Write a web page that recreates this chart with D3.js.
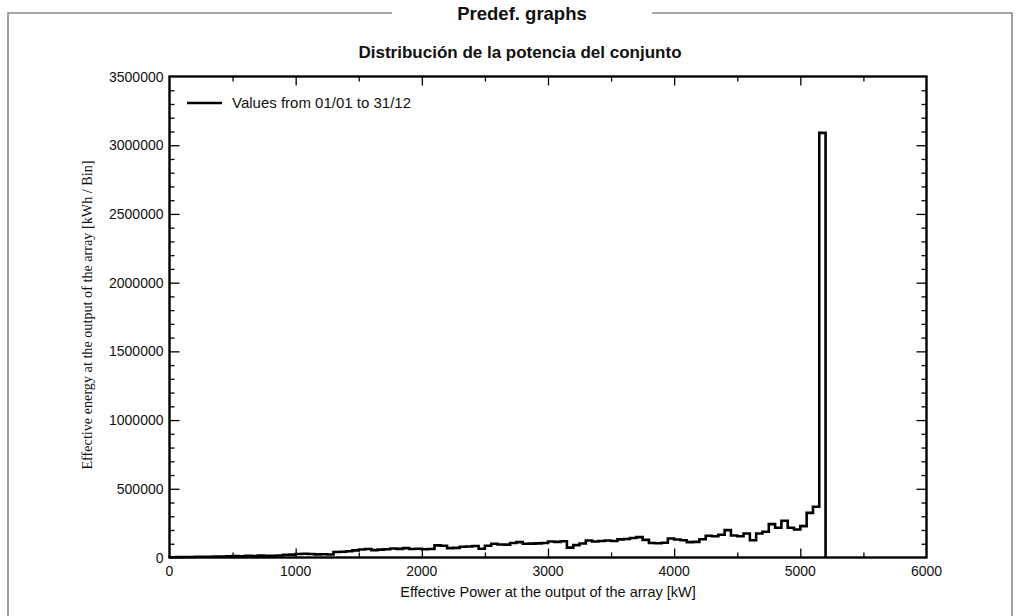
<!DOCTYPE html>
<html>
<head>
<meta charset="utf-8">
<script src="https://cdn.jsdelivr.net/npm/d3@7"></script>
<style>
  html, body { margin: 0; padding: 0; background: #fff; }
  svg { display: block; }
  text { font-family: "Liberation Sans", Arial, sans-serif; fill: #111; }
</style>
</head>
<body>
<svg id="chart" width="1020" height="616"></svg>
<script>
// ---- data ----
const frameTitle = "Predef. graphs";
const chartTitle = "Distribución de la potencia del conjunto";
const xTitle = "Effective Power at the output of the array [kW]";
const yTitle = "Effective energy at the output of the array [kWh / Bin]";
const legendLabel = "Values from 01/01 to 31/12";

const binWidthKW = 50;
// energy per 50 kW bin, starting at 0 kW
const energyPerBin = [
  2000, 3000, 4000, 4000, 5000, 5000, 6000, 7000, 7000, 9000,
  10000, 9000, 12000, 11000, 14000, 13000, 12000, 15000, 20000, 21000,
  26000, 27000, 25000, 23000, 24000, 22000, 40000, 42000, 46000, 52000,
  58000, 62000, 54000, 57000, 60000, 66000, 63000, 68000, 62000, 64000,
  60000, 62000, 88000, 86000, 68000, 70000, 78000, 80000, 84000, 64000,
  86000, 100000, 95000, 94000, 106000, 112000, 100000, 101000, 103000, 106000,
  116000, 114000, 118000, 72000, 90000, 102000, 124000, 116000, 120000, 124000,
  120000, 132000, 135000, 142000, 148000, 128000, 106000, 104000, 107000, 138000,
  131000, 125000, 112000, 114000, 133000, 158000, 155000, 165000, 199000, 160000,
  155000, 175000, 126000, 175000, 187000, 243000, 216000, 267000, 216000, 204000,
  228000, 325000, 369000, 3090000
];
const binStarts = d3.range(energyPerBin.length).map(i => i * binWidthKW);

const xTicks = [0, 1000, 2000, 3000, 4000, 5000, 6000];
const yTicks = [0, 500000, 1000000, 1500000, 2000000, 2500000, 3000000, 3500000];

// ---- layout ----
const svg = d3.select("#chart");
const plot = { left: 169.5, right: 926.5, top: 76.5, bottom: 557.5 };

const x = d3.scaleLinear().domain([0, 6000]).range([plot.left, plot.right]);
const y = d3.scaleLinear().domain([0, 3500000]).range([plot.bottom, plot.top]);

// outer frame
const frameColor = "#8a8a8a";
svg.append("path")
  .attr("d", `M392,13 H8 V616 M1012,616 V13 H652`)
  .attr("fill", "none").attr("stroke", frameColor).attr("stroke-width", 1.6);
svg.append("text")
  .attr("x", 522).attr("y", 19.5)
  .attr("text-anchor", "middle")
  .attr("font-weight", "bold").attr("font-size", 18.5)
  .text(frameTitle);

svg.append("text")
  .attr("x", 520).attr("y", 58)
  .attr("text-anchor", "middle")
  .attr("font-weight", "bold").attr("font-size", 17)
  .text(chartTitle);

// ticks (inward), via axes
function styleAxis(g) {
  g.select(".domain").remove();
  g.selectAll("line").attr("stroke", "#000").attr("stroke-width", 1.3);
  g.selectAll("text").remove();
}
const xMinor = d3.range(0, 6001, 500).filter(v => v % 1000 !== 0);
const yMinor = d3.range(0, 3500001, 100000).filter(v => v % 500000 !== 0);

// bottom
svg.append("g").attr("transform", `translate(0,${plot.bottom})`)
  .call(d3.axisTop(x).tickValues(xTicks.slice(1, -1)).tickSize(9)).call(styleAxis);
svg.append("g").attr("transform", `translate(0,${plot.bottom})`)
  .call(d3.axisTop(x).tickValues(xMinor).tickSize(5)).call(styleAxis);
// top
svg.append("g").attr("transform", `translate(0,${plot.top})`)
  .call(d3.axisBottom(x).tickValues(xTicks.slice(1, -1)).tickSize(9)).call(styleAxis);
svg.append("g").attr("transform", `translate(0,${plot.top})`)
  .call(d3.axisBottom(x).tickValues(xMinor).tickSize(5)).call(styleAxis);
// left
svg.append("g").attr("transform", `translate(${plot.left},0)`)
  .call(d3.axisRight(y).tickValues(yTicks.slice(1, -1)).tickSize(10)).call(styleAxis);
svg.append("g").attr("transform", `translate(${plot.left},0)`)
  .call(d3.axisRight(y).tickValues(yMinor).tickSize(5)).call(styleAxis);
// right
svg.append("g").attr("transform", `translate(${plot.right},0)`)
  .call(d3.axisLeft(y).tickValues(yTicks.slice(1, -1)).tickSize(10)).call(styleAxis);
svg.append("g").attr("transform", `translate(${plot.right},0)`)
  .call(d3.axisLeft(y).tickValues(yMinor).tickSize(5)).call(styleAxis);

// tick labels
svg.append("g").selectAll("text").data(xTicks).join("text")
  .attr("x", d => x(d)).attr("y", plot.bottom + 18.5)
  .attr("text-anchor", "middle").attr("font-size", 14)
  .text(d => d);
svg.append("g").selectAll("text").data(yTicks).join("text")
  .attr("x", plot.left - 6).attr("y", d => y(d) + 5)
  .attr("text-anchor", "end").attr("font-size", 14)
  .text(d => d);

// axis titles
svg.append("text")
  .attr("x", (plot.left + plot.right) / 2).attr("y", 597)
  .attr("text-anchor", "middle").attr("font-size", 14.5)
  .text(xTitle);
svg.append("text")
  .attr("transform", `translate(92,${(plot.top + plot.bottom) / 2 - 2}) rotate(-90)`)
  .attr("text-anchor", "middle").attr("font-size", 14.2)
  .style("font-family", "'Liberation Serif', 'Times New Roman', serif")
  .text(yTitle);

// step histogram outline
const pts = [[0, 0]];
energyPerBin.forEach((v, i) => {
  pts.push([binStarts[i], v]);
  pts.push([binStarts[i] + binWidthKW, v]);
});
pts.push([binStarts[binStarts.length - 1] + binWidthKW, 0]);
const line = d3.line().x(d => x(d[0])).y(d => y(d[1]));
svg.append("path")
  .attr("d", line(pts))
  .attr("fill", "none").attr("stroke", "#000")
  .attr("stroke-width", 2.6).attr("stroke-linejoin", "miter");

// frame
svg.append("rect")
  .attr("x", plot.left).attr("y", plot.top)
  .attr("width", plot.right - plot.left).attr("height", plot.bottom - plot.top)
  .attr("fill", "none").attr("stroke", "#000").attr("stroke-width", 2.4);

// legend
svg.append("line")
  .attr("x1", 187).attr("x2", 222).attr("y1", 103).attr("y2", 103)
  .attr("stroke", "#000").attr("stroke-width", 2.6);
svg.append("text")
  .attr("x", 232).attr("y", 108).attr("font-size", 15)
  .text(legendLabel);
</script>
</body>
</html>
